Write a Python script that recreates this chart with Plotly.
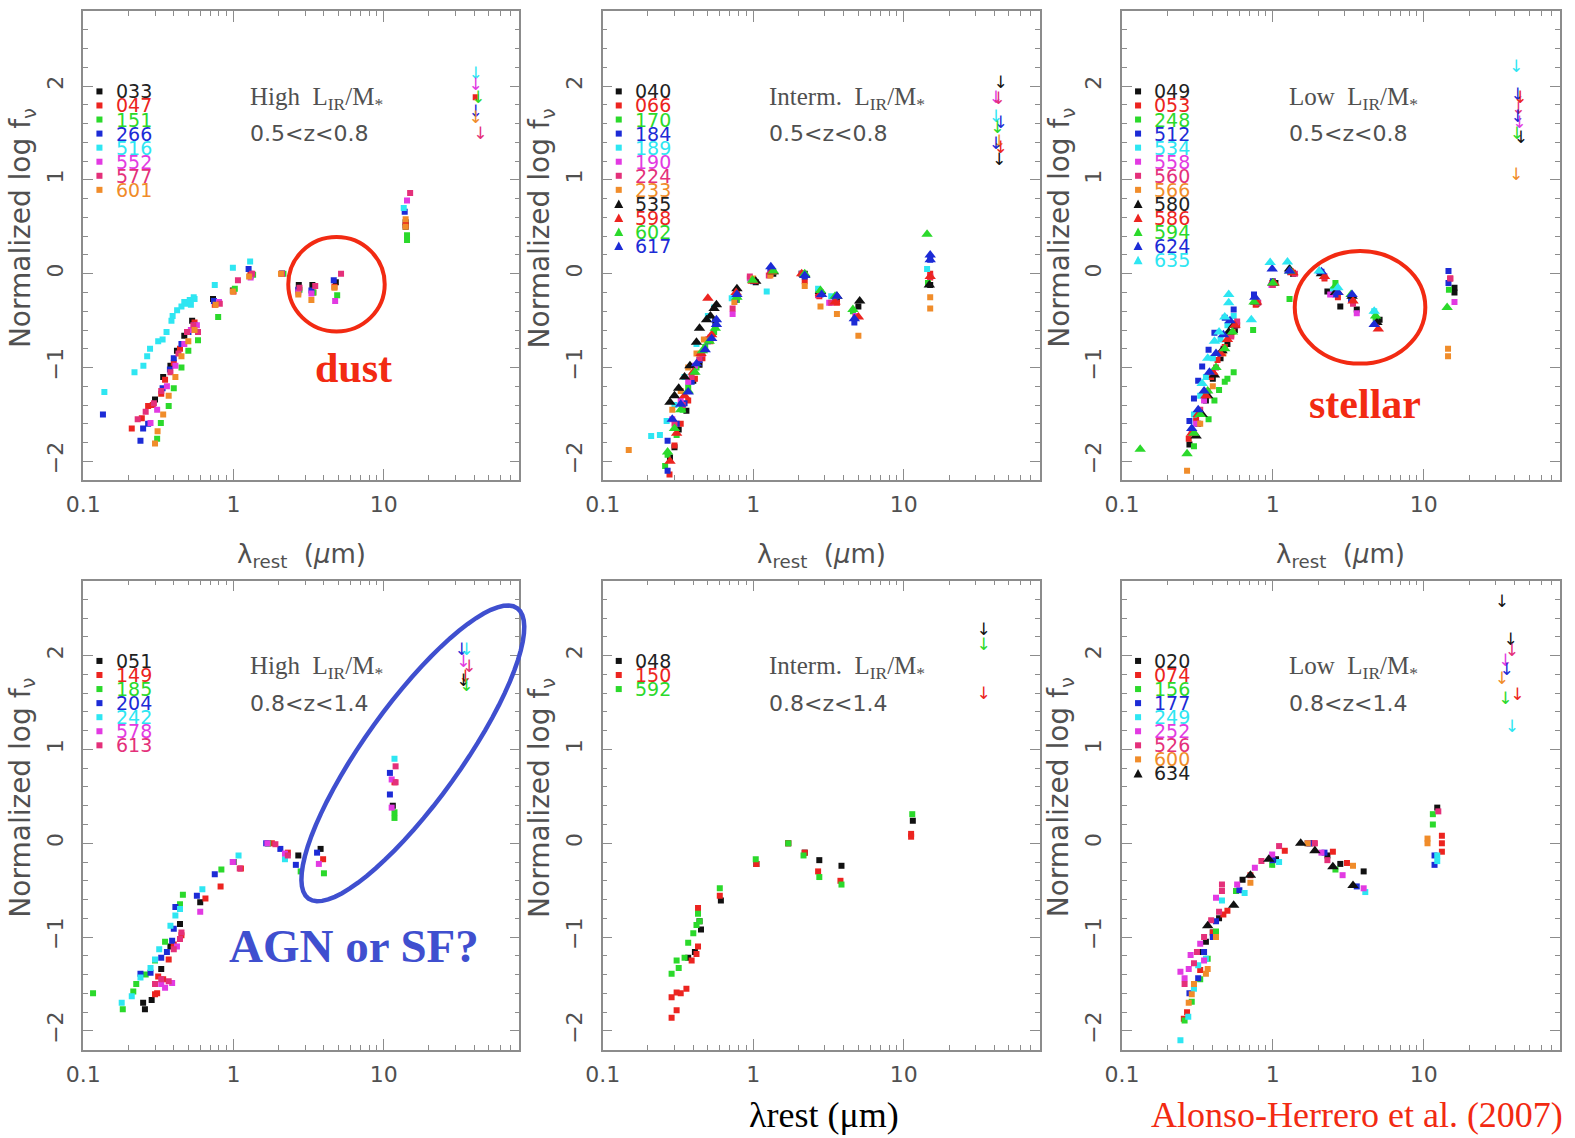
import math
import plotly.graph_objects as go

W, H = 1575, 1138
S = 1575 / 1568.0  # measured coords are from the 1568-wide preview


def fx(x):
    return x * S / W


def fy(y):
    return 1 - y * S / H


# ---------------- colours ----------------
K = '#111111'
R = '#ec2420'
G = '#2bd92b'
B = '#1c2bd6'
C = '#2ee6f2'
M = '#e23ae2'
P = '#e4307a'
O = '#f08c2a'

# ---------------- panel 1 : High LIR/M*, 0.5<z<0.8 ----------------
p1_033 = [(0.30, -1.34), (0.34, -1.10), (0.38, -0.98), (0.42, -0.82), (0.47, -0.66), (0.53, -0.50),
          (0.73, -0.27), (0.99, -0.18), (1.30, -0.02), (2.10, 0.0), (2.72, -0.12), (3.35, -0.12),
          (4.80, -0.09), (14.0, 0.55), (14.0, 0.50)]
p1_047 = [(0.21, -1.65), (0.245, -1.54), (0.27, -1.41), (0.29, -1.40), (0.33, -1.28), (0.35, -1.13),
          (0.40, -0.95), (0.44, -0.80), (0.50, -0.62), (0.55, -0.52), (0.75, -0.33), (1.00, -0.19),
          (1.30, 0.0), (2.10, 0.0), (2.70, -0.18), (3.40, -0.20), (4.70, -0.14), (14.0, 0.52), (41.0, 1.88)]
p1_151 = [(0.31, -1.76), (0.328, -1.59), (0.37, -1.41), (0.40, -1.22), (0.45, -1.00), (0.50, -0.82),
          (0.58, -0.71), (0.79, -0.46), (1.02, -0.16), (1.35, -0.01), (2.15, 0.0), (2.75, -0.17),
          (3.40, -0.20), (4.90, -0.23), (14.3, 0.36), (14.3, 0.41)]
p1_266 = [(0.135, -1.50), (0.24, -1.78), (0.25, -1.65), (0.27, -1.60), (0.337, -1.22), (0.377, -1.02),
          (0.40, -0.90), (0.45, -0.75), (0.50, -0.62), (0.55, -0.55), (0.74, -0.29), (1.26, 0.05),
          (2.10, 0.0), (2.70, -0.17), (3.30, -0.18), (4.65, -0.07), (13.8, 0.66)]
p1_516 = [(0.138, -1.26), (0.219, -1.05), (0.251, -0.98), (0.266, -0.88), (0.278, -0.80), (0.315, -0.72),
          (0.337, -0.70), (0.358, -0.62), (0.386, -0.50), (0.393, -0.45), (0.421, -0.39), (0.45, -0.35),
          (0.47, -0.30), (0.486, -0.32), (0.511, -0.28), (0.52, -0.33), (0.543, -0.25), (0.55, -0.27),
          (0.75, -0.12), (0.99, 0.065), (1.29, 0.13), (2.10, 0.0), (13.6, 0.70)]
p1_552 = [(0.28, -1.59), (0.31, -1.45), (0.36, -1.20), (0.41, -0.98), (0.47, -0.75), (0.52, -0.60),
          (0.57, -0.55), (0.80, -0.30), (1.30, -0.04), (2.10, 0.0), (2.70, -0.20), (3.30, -0.21),
          (4.75, -0.29), (14.3, 0.78)]
p1_577 = [(0.23, -1.55), (0.26, -1.47), (0.295, -1.38), (0.33, -1.25), (0.38, -1.05), (0.43, -0.85),
          (0.49, -0.62), (0.54, -0.55), (0.58, -0.62), (0.81, -0.32), (1.07, -0.07), (1.33, 0.0),
          (2.10, 0.0), (2.75, -0.15), (3.50, -0.13), (5.20, 0.0), (15.0, 0.86)]
p1_601 = [(0.30, -1.81), (0.312, -1.68), (0.34, -1.50), (0.37, -1.30), (0.41, -1.10), (0.45, -0.88),
          (0.50, -0.72), (0.55, -0.60), (0.76, -0.33), (0.99, -0.19), (1.27, -0.03), (2.07, 0.0),
          (2.70, -0.22), (3.30, -0.28), (4.70, -0.15), (14.0, 0.50), (14.0, 0.58)]
p1_limits = [('516', 41.0, 2.12), ('552', 41.0, 2.00), ('151', 42.5, 1.86), ('266', 41.0, 1.72),
             ('601', 41.0, 1.65), ('577', 44.0, 1.48)]

# ---------------- panel 2 : Interm. LIR/M*, 0.5<z<0.8 ----------------
p2_040 = [(0.28, -1.96), (0.30, -1.85), (0.32, -1.66), (0.36, -1.46), (0.40, -1.14), (0.44, -0.97),
          (0.50, -0.71), (0.56, -0.50), (0.78, -0.22), (1.04, -0.09), (1.36, 0.0), (2.20, 0.0),
          (2.80, -0.20), (3.60, -0.27), (5.00, -0.35), (15.0, -0.12)]
p2_066 = [(0.278, -2.14), (0.30, -1.83), (0.33, -1.60), (0.37, -1.35), (0.41, -1.12), (0.46, -0.90),
          (0.52, -0.72), (0.77, -0.20), (0.99, -0.06), (1.30, 0.0), (2.20, -0.08), (2.75, -0.24),
          (3.60, -0.31), (4.80, -0.46), (15.0, 0.0), (15.0, -0.04)]
p2_170 = [(0.26, -2.05), (0.27, -1.93), (0.31, -1.72), (0.34, -1.45), (0.37, -1.21), (0.42, -1.00),
          (0.48, -0.78), (0.55, -0.62), (0.78, -0.28), (0.99, -0.07), (1.36, 0.02), (2.09, 0.0),
          (2.70, -0.20), (3.50, -0.25), (4.60, -0.40), (14.5, -0.10)]
p2_184 = [(0.27, -2.10), (0.27, -1.78), (0.31, -1.60), (0.35, -1.38), (0.39, -1.15), (0.44, -0.92),
          (0.50, -0.72), (0.56, -0.56), (0.76, -0.28), (1.00, -0.08), (1.30, 0.03), (2.20, -0.03),
          (2.80, -0.22), (3.50, -0.26), (4.70, -0.52), (15.0, 0.15)]
p2_189 = [(0.21, -1.73), (0.24, -1.72), (0.266, -1.57), (0.30, -1.40), (0.35, -1.10), (0.42, -0.75),
          (0.50, -0.45), (0.55, -0.36), (0.72, -0.26), (1.23, -0.19), (2.10, 0.0), (2.70, -0.16),
          (3.30, -0.24), (14.3, 0.05)]
p2_190 = [(0.29, -1.55), (0.33, -1.35), (0.37, -1.15), (0.41, -0.98), (0.46, -0.85), (0.52, -0.68),
          (0.73, -0.43), (0.95, -0.05), (1.30, 0.0), (2.10, 0.0), (2.70, -0.22), (3.20, -0.31),
          (4.80, -0.45)]
p2_224 = [(0.30, -1.60), (0.34, -1.40), (0.39, -1.10), (0.44, -0.90), (0.50, -0.70), (0.73, -0.37),
          (0.95, -0.03), (1.27, -0.02), (2.10, 0.0), (2.70, -0.23), (3.30, -0.31), (4.80, -0.46),
          (15.0, -0.03)]
p2_233 = [(0.149, -1.88), (0.29, -1.45), (0.33, -1.25), (0.37, -1.00), (0.42, -0.85), (0.47, -0.70),
          (0.75, -0.30), (1.00, -0.05), (1.30, -0.02), (2.20, -0.13), (2.80, -0.35), (3.60, -0.43),
          (5.00, -0.66), (15.0, -0.25), (15.0, -0.37)]
p2_535 = [(0.28, -1.37), (0.30, -1.30), (0.32, -1.22), (0.35, -1.10), (0.38, -0.98), (0.42, -0.73),
          (0.44, -0.58), (0.49, -0.49), (0.52, -0.45), (0.55, -0.37), (0.57, -0.33), (0.78, -0.16),
          (1.04, -0.08), (1.36, 0.02), (2.20, -0.01), (2.80, -0.19), (3.60, -0.24), (5.10, -0.29),
          (14.8, -0.12)]
p2_598 = [(0.28, -2.00), (0.31, -1.70), (0.35, -1.30), (0.40, -1.05), (0.45, -0.85), (0.50, -0.26),
          (0.53, -0.65), (0.77, -0.20), (1.00, -0.08), (1.33, 0.02), (2.10, 0.0), (2.80, -0.21),
          (3.50, -0.30), (5.00, -0.46), (15.0, -0.03)]
p2_602 = [(0.27, -1.90), (0.30, -1.65), (0.33, -1.45), (0.37, -1.25), (0.41, -1.05), (0.46, -0.82),
          (0.51, -0.72), (0.56, -0.58), (0.78, -0.25), (0.99, -0.07), (1.36, 0.03), (2.20, 0.0),
          (2.80, -0.18), (3.50, -0.24), (4.60, -0.38), (14.3, 0.42)]
p2_617 = [(0.29, -1.55), (0.33, -1.39), (0.37, -1.26), (0.42, -0.96), (0.48, -0.81), (0.53, -0.69),
          (0.57, -0.54), (0.57, -0.49), (0.78, -0.22), (1.31, 0.075), (2.20, -0.02), (2.85, -0.22),
          (3.60, -0.24), (4.70, -0.48), (15.0, 0.20), (15.0, 0.15)]
p2_limits = [('535', 44.0, 2.02), ('190', 41.0, 1.87), ('224', 42.5, 1.85), ('189', 41.0, 1.66),
             ('617', 44.0, 1.60), ('170', 42.0, 1.55), ('233', 43.0, 1.40), ('184', 41.0, 1.38),
             ('598', 44.0, 1.33), ('040', 43.0, 1.20)]

# ---------------- panel 3 : Low LIR/M*, 0.5<z<0.8 ----------------
p3_049 = [(0.28, -1.82), (0.32, -1.60), (0.36, -1.35), (0.40, -1.12), (0.45, -0.90), (0.50, -0.75),
          (0.56, -0.60), (0.78, -0.32), (1.04, -0.10), (1.36, 0.0), (2.30, -0.19), (2.80, -0.35),
          (3.60, -0.38), (5.10, -0.49), (16.0, -0.15), (16.0, -0.20)]
p3_053 = [(0.277, -1.76), (0.31, -1.55), (0.35, -1.30), (0.39, -1.10), (0.43, -0.92), (0.48, -0.78),
          (0.53, -0.65), (0.58, -0.55), (0.77, -0.33), (0.99, -0.10), (1.36, 0.01), (2.20, -0.05),
          (2.70, -0.25), (3.40, -0.30), (15.0, -0.05)]
p3_248 = [(0.30, -1.84), (0.375, -1.55), (0.41, -1.35), (0.44, -1.24), (0.48, -1.15), (0.50, -1.12),
          (0.55, -1.05), (0.74, -0.60), (1.29, -0.27), (2.60, -0.10), (4.80, -0.47), (14.7, -0.17)]
p3_512 = [(0.28, -1.57), (0.30, -1.33), (0.32, -1.14), (0.34, -0.99), (0.375, -0.81), (0.41, -0.63),
          (0.48, -0.47), (0.55, -0.38), (0.75, -0.22), (1.00, -0.08), (1.30, 0.02), (2.10, 0.02),
          (2.60, -0.22), (3.30, -0.27), (14.6, 0.03), (14.6, -0.10)]
p3_534 = [(0.30, -1.50), (0.33, -1.30), (0.36, -1.10), (0.40, -0.90), (0.45, -0.70), (0.50, -0.55),
          (0.55, -0.45), (2.50, -0.17), (4.70, -0.40)]
p3_558 = [(0.31, -1.60), (0.35, -1.35), (0.40, -1.05), (0.45, -0.85), (0.52, -0.65), (0.57, -0.55),
          (0.98, -0.12), (2.40, -0.22), (3.60, -0.42), (16.0, -0.30)]
p3_560 = [(0.29, -1.70), (0.33, -1.45), (0.37, -1.25), (0.42, -1.00), (0.47, -0.80), (0.53, -0.67),
          (0.58, -0.51), (0.80, -0.31), (1.00, -0.12), (1.40, 0.0), (2.20, -0.03), (3.40, -0.32),
          (15.0, -0.05)]
p3_566 = [(0.27, -2.10), (0.33, -1.60), (0.40, -1.20), (0.47, -0.85), (0.54, -0.62), (14.5, -0.80),
          (14.5, -0.88)]
p3_580 = [(0.31, -1.73), (0.34, -1.50), (0.37, -1.30), (0.41, -1.08), (0.46, -0.82), (0.51, -0.62),
          (0.55, -0.55), (0.77, -0.30), (1.00, -0.10), (1.29, 0.05), (2.10, 0.0), (2.60, -0.20),
          (3.35, -0.24), (4.90, -0.52)]
p3_586 = [(0.29, -1.70), (0.32, -1.50), (0.36, -1.30), (0.40, -1.05), (0.45, -0.85), (0.50, -0.70),
          (0.56, -0.55), (0.78, -0.30), (1.02, -0.10), (1.36, 0.01), (2.20, -0.03), (2.70, -0.20),
          (3.40, -0.29), (5.00, -0.59)]
p3_594 = [(0.132, -1.87), (0.27, -1.92), (0.30, -1.70), (0.33, -1.50), (0.37, -1.25), (0.42, -1.00),
          (0.48, -0.80), (0.54, -0.62), (0.75, -0.30), (1.00, -0.10), (1.30, 0.03), (2.60, -0.13),
          (3.30, -0.22), (4.80, -0.45), (14.3, -0.36)]
p3_624 = [(0.29, -1.65), (0.32, -1.45), (0.35, -1.25), (0.38, -1.05), (0.42, -0.85), (0.47, -0.65),
          (0.52, -0.50), (0.76, -0.25), (0.99, 0.05), (1.29, 0.03), (2.10, 0.02), (2.70, -0.20),
          (3.35, -0.22), (4.70, -0.54)]
p3_635 = [(0.34, -1.17), (0.37, -0.90), (0.41, -0.72), (0.44, -0.62), (0.48, -0.46), (0.51, -0.31),
          (0.51, -0.22), (0.72, -0.49), (0.96, 0.12), (1.25, 0.125), (2.03, 0.03), (2.70, -0.15),
          (4.70, -0.40)]
p3_limits = [('534', 41.0, 2.20), ('512', 42.0, 1.90), ('053', 43.5, 1.87), ('560', 42.5, 1.75),
             ('624', 42.0, 1.66), ('558', 43.0, 1.60), ('594', 41.5, 1.48), ('049', 44.0, 1.44),
             ('566', 41.0, 1.04)]

# ---------------- panel 4 : High LIR/M*, 0.8<z<1.4 ----------------
p4_051 = [(0.25, -1.70), (0.257, -1.77), (0.285, -1.67), (0.33, -1.34), (0.38, -1.10), (0.44, -0.86),
          (0.60, -0.63), (1.00, -0.20), (1.70, 0.0), (2.70, -0.13), (3.80, -0.06), (11.5, 0.40)]
p4_149 = [(0.30, -1.61), (0.31, -1.60), (0.315, -1.42), (0.34, -1.45), (0.37, -1.24), (0.40, -1.08),
          (0.45, -0.98), (0.65, -0.59), (0.82, -0.46), (1.12, -0.27), (1.80, 0.0), (2.30, -0.10),
          (3.95, -0.17), (11.8, 0.65)]
p4_185 = [(0.116, -1.60), (0.183, -1.77), (0.215, -1.58), (0.225, -1.50), (0.26, -1.40), (0.30, -1.25),
          (0.35, -1.05), (0.44, -0.65), (0.46, -0.55), (0.83, -0.28), (1.70, 0.0), (2.80, -0.30),
          (4.00, -0.32), (11.8, 0.33), (11.8, 0.27)]
p4_204 = [(0.24, -1.39), (0.28, -1.38), (0.33, -1.22), (0.36, -1.16), (0.39, -1.04), (0.40, -0.91),
          (0.41, -0.68), (0.57, -0.56), (0.75, -0.33), (0.99, -0.20), (1.65, 0.0), (2.05, -0.06),
          (2.60, -0.23), (3.60, -0.10), (11.0, 0.75), (11.0, 0.52)]
p4_242 = [(0.18, -1.70), (0.21, -1.63), (0.24, -1.43), (0.28, -1.33), (0.30, -1.24), (0.32, -1.13),
          (0.38, -0.88), (0.41, -0.77), (0.44, -0.70), (0.62, -0.49), (1.08, -0.13), (2.20, -0.17),
          (11.8, 0.90)]
p4_578 = [(0.33, -1.50), (0.35, -1.54), (0.39, -1.49), (0.42, -1.10), (0.60, -0.73), (0.99, -0.20),
          (1.68, 0.0), (2.20, -0.11), (3.70, -0.22), (11.3, 0.68), (11.3, 0.38)]
p4_613 = [(0.30, -1.50), (0.33, -1.45), (0.37, -1.47), (0.40, -1.13), (0.44, -1.02), (0.45, -0.95),
          (1.10, -0.27), (1.90, -0.01), (2.30, -0.13), (12.0, 0.82), (12.0, 0.65)]
p4_limits = [('204', 33.0, 2.05), ('242', 35.5, 2.05), ('578', 34.0, 1.92), ('613', 37.0, 1.87),
             ('149', 35.0, 1.76), ('051', 34.0, 1.72), ('185', 35.5, 1.67)]

# ---------------- panel 5 : Interm. LIR/M*, 0.8<z<1.4 ----------------
p5_048 = [(0.37, -1.22), (0.41, -1.16), (0.44, -0.83), (0.45, -0.92), (0.61, -0.61), (1.05, -0.22),
          (1.71, 0.0), (2.20, -0.10), (2.75, -0.18), (3.86, -0.24), (11.5, 0.24)]
p5_150 = [(0.287, -1.64), (0.31, -1.59), (0.33, -1.60), (0.36, -1.55), (0.287, -1.86), (0.31, -1.78),
          (0.39, -1.25), (0.42, -1.18), (0.43, -1.10), (0.43, -0.69), (0.60, -0.56), (1.05, -0.22),
          (1.71, 0.0), (2.20, -0.10), (2.70, -0.30), (3.80, -0.40), (11.2, 0.10), (11.2, 0.07)]
p5_592 = [(0.287, -1.39), (0.31, -1.25), (0.32, -1.33), (0.35, -1.22), (0.37, -1.06), (0.40, -0.96),
          (0.42, -0.87), (0.43, -0.75), (0.44, -0.83), (0.60, -0.48), (1.04, -0.17), (1.71, 0.0),
          (2.16, -0.13), (2.75, -0.36), (3.86, -0.44), (11.4, 0.31)]
p5_limits = [('048', 34.0, 2.26), ('592', 34.0, 2.10), ('150', 34.0, 1.58)]

# ---------------- panel 6 : Low LIR/M*, 0.8<z<1.4 ----------------
p6_020 = [(0.33, -1.16), (0.36, -1.05), (0.40, -0.95), (0.44, -0.80), (0.63, -0.39), (1.05, -0.17),
          (1.75, 0.0), (2.30, -0.13), (2.80, -0.22), (4.00, -0.30), (12.3, 0.38)]
p6_074 = [(0.257, -1.87), (0.27, -1.80), (0.33, -1.35), (0.40, -0.95), (0.47, -0.76), (0.50, -0.72),
          (0.71, -0.34), (1.20, -0.08), (1.88, 0.0), (2.50, -0.09), (3.10, -0.21), (13.2, 0.08),
          (13.2, 0.0), (13.2, -0.09)]
p6_156 = [(0.26, -1.89), (0.29, -1.69), (0.33, -1.45), (0.37, -1.23), (0.42, -0.94), (0.57, -0.51),
          (0.99, -0.23), (1.70, 0.0), (2.60, -0.28), (11.5, 0.31), (11.5, 0.20)]
p6_177 = [(0.28, -1.60), (0.32, -1.44), (0.35, -1.16), (0.40, -1.00), (0.42, -0.83), (0.60, -0.50),
          (1.00, -0.18), (1.75, 0.0), (2.20, -0.10), (3.60, -0.46), (11.8, -0.13), (11.8, -0.23)]
p6_249 = [(0.244, -2.10), (0.275, -1.85), (0.30, -1.55), (0.32, -1.30), (0.36, -1.23), (0.46, -0.61),
          (0.65, -0.53), (1.10, -0.20), (4.10, -0.52), (12.3, -0.19), (12.3, -0.13)]
p6_252 = [(0.244, -1.37), (0.26, -1.44), (0.277, -1.34), (0.285, -1.19), (0.33, -1.07), (0.35, -1.25),
          (0.42, -0.58), (0.58, -0.44), (0.76, -0.26), (0.99, -0.12), (1.70, 0.0), (2.10, -0.10),
          (2.90, -0.34), (4.00, -0.48)]
p6_526 = [(0.26, -1.50), (0.30, -1.28), (0.314, -1.16), (0.35, -1.00), (0.39, -0.82), (0.44, -0.73),
          (0.46, -0.51), (0.46, -0.44), (0.84, -0.19), (1.10, -0.03), (1.90, 0.0), (2.30, -0.18),
          (12.5, 0.34)]
p6_600 = [(0.277, -1.70), (0.29, -1.61), (0.30, -1.50), (0.36, -1.39), (0.37, -1.34), (0.42, -1.00),
          (0.71, -0.42), (1.70, 0.0), (3.40, -0.24), (10.6, 0.05), (10.6, 0.0)]
p6_634 = [(0.37, -0.88), (0.55, -0.66), (0.71, -0.34), (0.94, -0.17), (1.53, 0.0), (1.90, -0.08),
          (2.50, -0.25), (3.40, -0.45)]
p6_limits = [('020', 33.0, 2.56), ('634', 37.7, 2.16), ('526', 38.4, 2.04), ('252', 34.8, 1.93),
             ('177', 35.4, 1.84), ('600', 33.0, 1.74), ('074', 41.8, 1.57), ('156', 34.8, 1.53),
             ('249', 38.4, 1.23)]

# ---------------- axis ticks ----------------
x_tickvals = [0.1, 1, 10]
x_ticktext = ['0.1', '1', '10']
x_minor = [0.2, 0.3, 0.4, 0.5, 0.6, 0.7, 0.8, 0.9, 2, 3, 4, 5, 6, 7, 8, 9, 20, 30, 40, 50, 60, 70]
y_tickvals = [-2, -1, 0, 1, 2]
x_range = [-1, math.log10(80)]
y_range = [-2.2, 2.8]

# ---------------- panel definitions (layout in preview px) ----------------
PANELS = [
    dict(xd=(83, 517), yd=(11, 478), lab=('High', '0.5&lt;z&lt;0.8'),
         src=[('033', K, 's', p1_033), ('047', R, 's', p1_047), ('151', G, 's', p1_151),
              ('266', B, 's', p1_266), ('516', C, 's', p1_516), ('552', M, 's', p1_552),
              ('577', P, 's', p1_577), ('601', O, 's', p1_601)], lim=p1_limits),
    dict(xd=(600, 1035), yd=(11, 478), lab=('Interm.', '0.5&lt;z&lt;0.8'),
         src=[('040', K, 's', p2_040), ('066', R, 's', p2_066), ('170', G, 's', p2_170),
              ('184', B, 's', p2_184), ('189', C, 's', p2_189), ('190', M, 's', p2_190),
              ('224', P, 's', p2_224), ('233', O, 's', p2_233), ('535', K, 't', p2_535),
              ('598', R, 't', p2_598), ('602', G, 't', p2_602), ('617', B, 't', p2_617)], lim=p2_limits),
    dict(xd=(1117, 1553), yd=(11, 478), lab=('Low', '0.5&lt;z&lt;0.8'),
         src=[('049', K, 's', p3_049), ('053', R, 's', p3_053), ('248', G, 's', p3_248),
              ('512', B, 's', p3_512), ('534', C, 's', p3_534), ('558', M, 's', p3_558),
              ('560', P, 's', p3_560), ('566', O, 's', p3_566), ('580', K, 't', p3_580),
              ('586', R, 't', p3_586), ('594', G, 't', p3_594), ('624', B, 't', p3_624),
              ('635', C, 't', p3_635)], lim=p3_limits),
    dict(xd=(83, 517), yd=(578, 1045), lab=('High', '0.8&lt;z&lt;1.4'),
         src=[('051', K, 's', p4_051), ('149', R, 's', p4_149), ('185', G, 's', p4_185),
              ('204', B, 's', p4_204), ('242', C, 's', p4_242), ('578', M, 's', p4_578),
              ('613', P, 's', p4_613)], lim=p4_limits),
    dict(xd=(600, 1035), yd=(578, 1045), lab=('Interm.', '0.8&lt;z&lt;1.4'),
         src=[('048', K, 's', p5_048), ('150', R, 's', p5_150), ('592', G, 's', p5_592)], lim=p5_limits),
    dict(xd=(1117, 1553), yd=(578, 1045), lab=('Low', '0.8&lt;z&lt;1.4'),
         src=[('020', K, 's', p6_020), ('074', R, 's', p6_074), ('156', G, 's', p6_156),
              ('177', B, 's', p6_177), ('249', C, 's', p6_249), ('252', M, 's', p6_252),
              ('526', P, 's', p6_526), ('600', O, 's', p6_600), ('634', K, 't', p6_634)], lim=p6_limits),
]

FRAME = '#8c8c8c'
TXT = '#505050'
SANS = 'DejaVu Sans'
SERIF = 'Liberation Serif'
REDANN = '#f22a12'
BLUEANN = '#3f4fcf'

fig = go.Figure()
layout = dict(width=W, height=H, margin=dict(l=0, r=0, t=0, b=0),
              paper_bgcolor='white', plot_bgcolor='white', showlegend=False)
shapes = []
annotations = []


def note(x, y, text, font, xanchor='center', yanchor='middle', **kw):
    d = dict(xref='paper', yref='paper', x=fx(x), y=fy(y), xanchor=xanchor, yanchor=yanchor,
             showarrow=False, text=text, font=font)
    d.update(kw)
    annotations.append(d)


for i, pan in enumerate(PANELS):
    n = '' if i == 0 else str(i + 1)
    xa, ya = 'x' + n, 'y' + n
    x0, x1 = pan['xd']
    y0, y1 = pan['yd']
    common = dict(showline=True, mirror='allticks', linecolor=FRAME, linewidth=1.6,
                  ticks='inside', tickcolor=FRAME, tickwidth=1.3, showgrid=False, zeroline=False,
                  automargin=False, tickfont=dict(family=SANS, size=22, color=TXT))
    layout['xaxis' + n] = dict(common, domain=[fx(x0), fx(x1)], anchor=ya, type='log', range=x_range,
                               tickmode='array', tickvals=x_tickvals, ticktext=x_ticktext, ticklen=11,
                               ticklabelstandoff=4,
                               minor=dict(ticks='inside', ticklen=5, tickcolor=FRAME, tickwidth=1.2,
                                          tickvals=x_minor, showgrid=False))
    layout['yaxis' + n] = dict(common, domain=[fy(y1), fy(y0)], anchor=xa, range=y_range,
                               tickmode='array', tickvals=y_tickvals, ticklen=10, tickangle=-90,
                               ticklabelstandoff=10,
                               minor=dict(ticks='inside', ticklen=5, tickcolor=FRAME, tickwidth=1.2,
                                          dtick=0.2, tick0=0, showgrid=False))

    colmap = {}
    for sid, col, sym, pts in pan['src']:
        colmap[sid] = col
        fig.add_trace(go.Scatter(
            x=[p[0] for p in pts], y=[p[1] for p in pts], mode='markers',
            marker=dict(symbol='square' if sym == 's' else 'triangle-up',
                        size=6 if sym == 's' else 10, color=col, line=dict(width=0)),
            xaxis=xa, yaxis=ya, hoverinfo='skip'))
    lim = pan['lim']
    fig.add_trace(go.Scatter(
        x=[l[1] for l in lim], y=[l[2] for l in lim], mode='text', text=['↓'] * len(lim),
        textposition='middle center',
        textfont=dict(family=SANS, size=17, color=[colmap[l[0]] for l in lim]),
        xaxis=xa, yaxis=ya, hoverinfo='skip'))

    # in-panel legend
    for j, (sid, col, sym, pts) in enumerate(pan['src']):
        ly = y0 + 80 + 14.0 * j
        lx = x0 + 16
        if sym == 's':
            shapes.append(dict(type='rect', xref='paper', yref='paper',
                               x0=fx(lx - 3), x1=fx(lx + 3), y0=fy(ly + 3), y1=fy(ly - 3),
                               fillcolor=col, line=dict(width=0)))
        else:
            path = 'M {:.5f} {:.5f} L {:.5f} {:.5f} L {:.5f} {:.5f} Z'.format(
                fx(lx - 4.5), fy(ly + 4), fx(lx + 4.5), fy(ly + 4), fx(lx), fy(ly - 4.5))
            shapes.append(dict(type='path', xref='paper', yref='paper', path=path,
                               fillcolor=col, line=dict(width=0)))
        note(x0 + 30, ly, sid, dict(family=SANS, size=19, color='#222222' if col == K else col),
             xanchor='left')

    # panel labels
    note(x0 + 164, y0 + 87, pan['lab'][0] + '  L<sub>IR</sub>/M<sub>*</sub>',
         dict(family=SERIF, size=25, color=TXT), xanchor='left')
    note(x0 + 164, y0 + 122, pan['lab'][1], dict(family=SANS, size=22, color=TXT), xanchor='left')
    # y title
    note(x0 - 61, y0 + 216, 'Normalized log f<sub>ν</sub>', dict(family=SANS, size=28, color=TXT),
         textangle=-90)
    # x title (top row only)
    if i < 3:
        note((x0 + x1) / 2, 553, 'λ<sub>rest</sub>  (<i>μ</i>m)', dict(family=SANS, size=26, color=TXT))

# ---------------- decorations ----------------
shapes.append(dict(type='circle', xref='paper', yref='paper', x0=fx(287), x1=fx(383), y0=fy(330), y1=fy(236),
                   line=dict(color=REDANN, width=4)))
shapes.append(dict(type='circle', xref='paper', yref='paper', x0=fx(1289), x1=fx(1419), y0=fy(362), y1=fy(250),
                   line=dict(color=REDANN, width=4)))
# rotated blue ellipse in panel 4
cx, cy, ea, eb, th = 411.0, 750.0, 178.0, 48.0, math.radians(54.3)
pts = []
for k in range(73):
    t = 2 * math.pi * k / 72
    X = cx + ea * math.cos(t) * math.cos(th) - eb * math.sin(t) * math.sin(th)
    Y = cy - (ea * math.cos(t) * math.sin(th) + eb * math.sin(t) * math.cos(th))
    pts.append('{:.5f} {:.5f}'.format(fx(X), fy(Y)))
shapes.append(dict(type='path', xref='paper', yref='paper', path='M ' + ' L '.join(pts) + ' Z',
                   line=dict(color=BLUEANN, width=4.5)))

note(352, 366, '<b>dust</b>', dict(family=SERIF, size=42, color=REDANN))
note(1359, 402, '<b>stellar</b>', dict(family=SERIF, size=42, color=REDANN))
note(352, 942, '<b>AGN or SF?</b>', dict(family=SERIF, size=47, color=BLUEANN))
note(820, 1110, 'λrest (μm)', dict(family=SERIF, size=36, color='black'))
note(1351, 1110, 'Alonso-Herrero et al. (2007)', dict(family=SERIF, size=36, color=REDANN))

layout['shapes'] = shapes
layout['annotations'] = annotations
fig.update_layout(**layout)
fig.write_html('out.html')
